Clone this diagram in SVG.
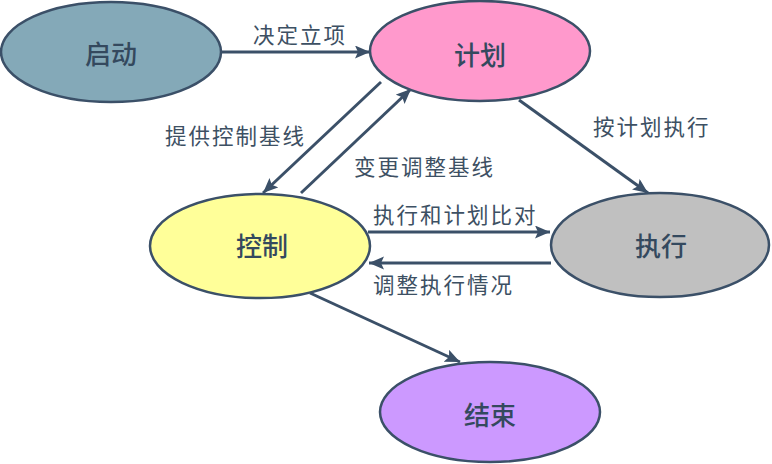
<svg xmlns="http://www.w3.org/2000/svg" width="772" height="464" viewBox="0 0 772 464">
<style>
.node{stroke:#3b5068;stroke-width:2.5}
.nt{font-family:"Noto Sans CJK SC","Noto Sans",sans-serif;font-size:26px;fill:#34495e;text-anchor:middle;font-weight:500}
.et{font-family:"Noto Sans CJK SC","Noto Sans",sans-serif;font-size:21.5px;fill:#3d5063;letter-spacing:2px}
.c{stroke:#3b5068;stroke-width:3;fill:none;marker-end:url(#ah)}
</style>
<defs>
<marker id="ah" markerUnits="userSpaceOnUse" markerWidth="16" markerHeight="14" refX="15" refY="6.5" orient="auto">
<path d="M0,0 L15,6.5 L0,13 L3,6.5 z" fill="#3b5068"/>
</marker>
</defs>
<rect width="772" height="464" fill="#ffffff"/>
<g id="connectors">
<line class="c" x1="221" y1="52" x2="370" y2="52"/>
<line class="c" x1="381" y1="82" x2="263" y2="193"/>
<line class="c" x1="301" y1="193" x2="411" y2="89"/>
<line class="c" x1="519" y1="100" x2="648" y2="193"/>
<line class="c" x1="368" y1="232" x2="550" y2="232"/>
<line class="c" x1="551" y1="263" x2="369" y2="263"/>
<line class="c" x1="310" y1="293" x2="460" y2="362"/>
</g>
<g id="edge-labels">
<text class="et" x="253" y="43">决定立项</text>
<text class="et" x="593" y="135">按计划执行</text>
<text class="et" x="165" y="144">提供控制基线</text>
<text class="et" x="354" y="175">变更调整基线</text>
<text class="et" x="373" y="223">执行和计划比对</text>
<text class="et" x="373" y="293">调整执行情况</text>
</g>
<g id="node-start">
<ellipse class="node" cx="111" cy="52" rx="110" ry="50" fill="#84a9b8"/>
<text class="nt" x="111" y="64">启动</text>
</g>
<g id="node-plan">
<ellipse class="node" cx="480" cy="51" rx="110" ry="50" fill="#ff99cc"/>
<text class="nt" x="480" y="65">计划</text>
</g>
<g id="node-control">
<ellipse class="node" cx="260" cy="246" rx="110" ry="52" fill="#ffff99"/>
<text class="nt" x="262" y="256">控制</text>
</g>
<g id="node-execute">
<ellipse class="node" cx="660" cy="245" rx="109" ry="52" fill="#c0c0c0"/>
<text class="nt" x="661" y="256">执行</text>
</g>
<g id="node-end">
<ellipse class="node" cx="490" cy="412" rx="110" ry="50" fill="#cc99ff"/>
<text class="nt" x="490" y="425">结束</text>
</g>
</svg>
